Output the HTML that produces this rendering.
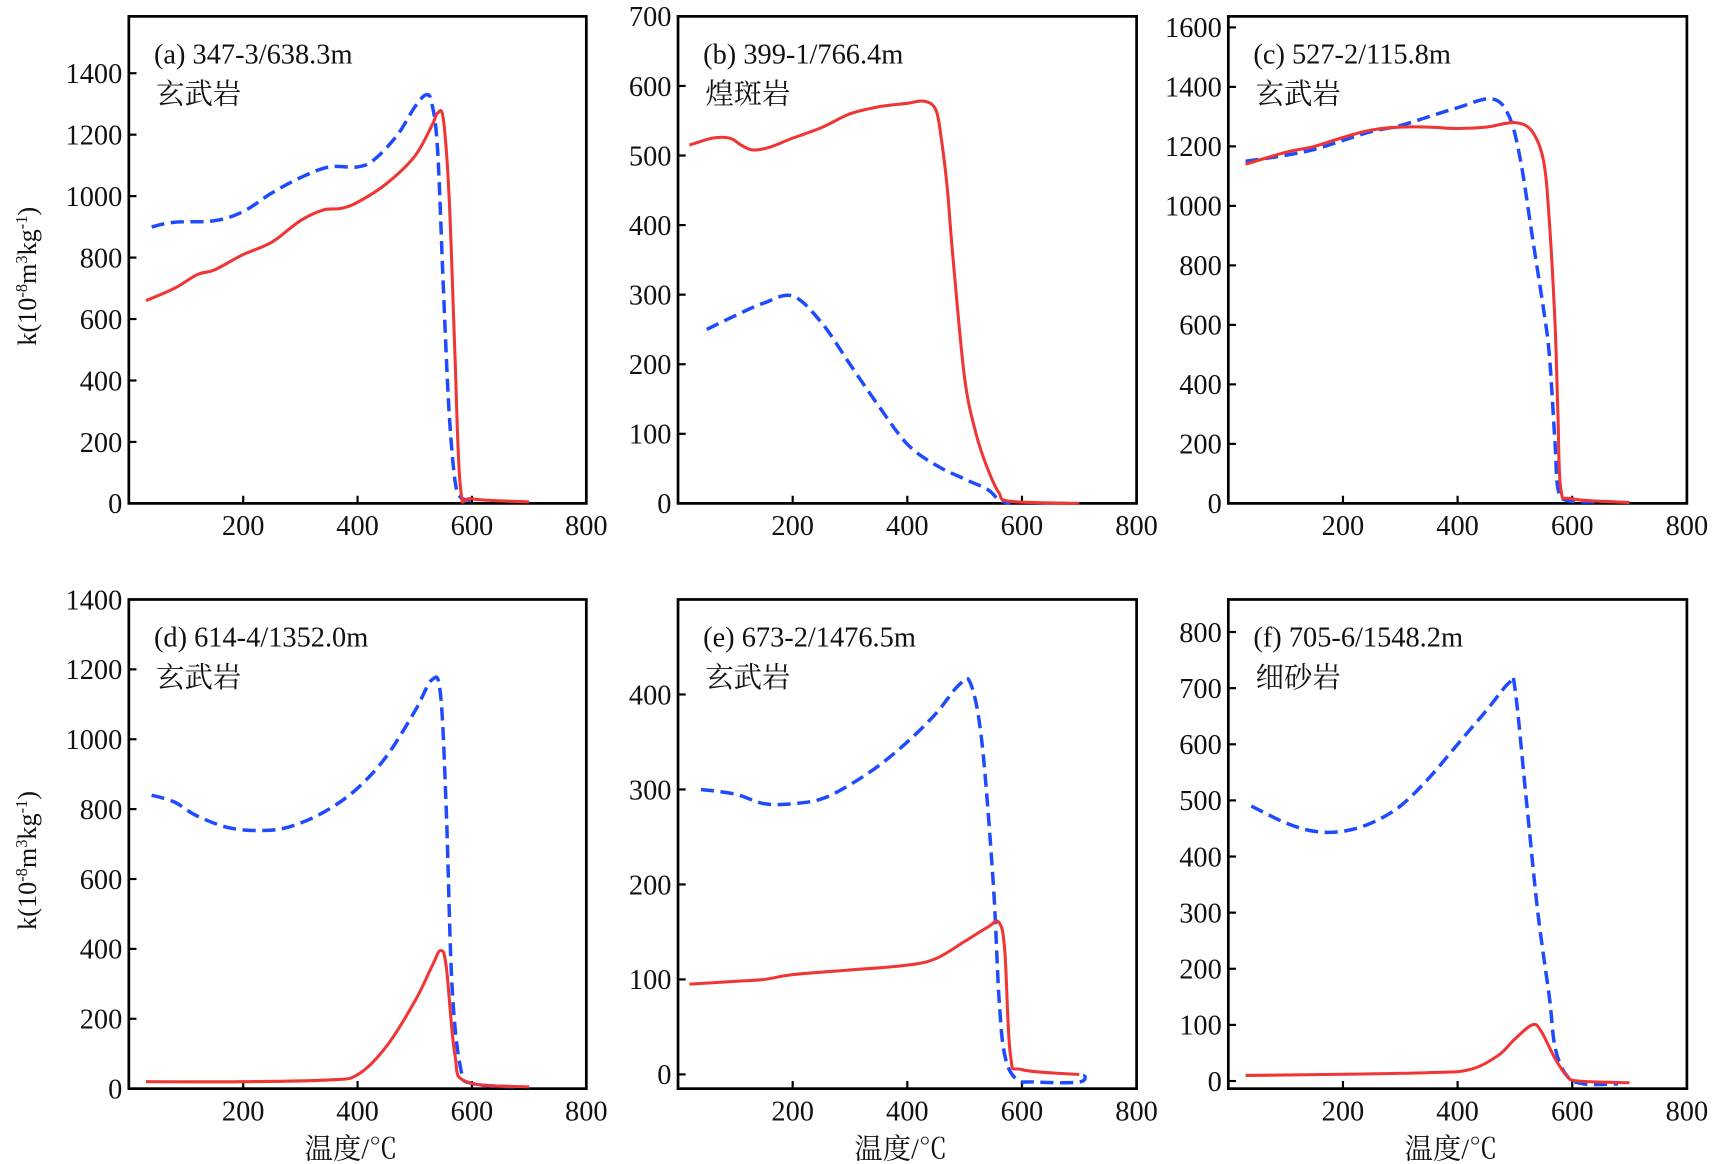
<!DOCTYPE html>
<html><head><meta charset="utf-8">
<style>
html,body{margin:0;padding:0;background:#fff;}
svg{display:block;}
text{font-family:"Liberation Serif","Noto Serif CJK SC","Noto Sans CJK SC",serif;fill:#111;}
</style></head>
<body>
<svg id="chart" width="1712" height="1164" viewBox="0 0 1568 1066" preserveAspectRatio="none" xmlns="http://www.w3.org/2000/svg"></svg>
<script>
// ---- data (temperature °C, susceptibility k) ----
const aHeatT=[30,80,120,150,200,250,300,340,370,400,450,500,530,540,550,560,570,580,600,700];
const aHeatK=[660,700,745,760,810,850,920,955,960,980,1040,1130,1230,1270,1250,1000,500,50,15,5];
const aCoolT=[40,80,150,200,250,300,350,400,430,470,500,520,530,540,550,560,570,580,600];
const aCoolK=[900,915,920,950,1010,1060,1095,1095,1120,1200,1290,1330,1300,1150,700,300,80,20,10];

const bHeatT=[20,60,90,110,130,160,200,250,300,350,400,430,450,460,470,480,500,520,540,560,580,700];
const bHeatK=[515,525,525,515,508,512,525,540,560,570,575,578,565,520,450,350,180,100,50,15,3,0];
const bCoolT=[50,100,150,200,250,300,350,400,450,500,540,560,580];
const bCoolK=[250,270,288,298,260,200,140,85,55,35,20,5,0];

const cHeatT=[30,100,150,200,250,300,350,400,450,500,530,550,560,570,575,580,600,700];
const cHeatK=[1140,1180,1200,1230,1255,1265,1265,1260,1265,1280,1250,1150,950,600,300,50,15,3];
const cCoolT=[30,100,150,200,250,300,350,400,460,490,510,530,550,560,570,575,590,650];
const cCoolK=[1150,1170,1190,1220,1250,1270,1300,1330,1360,1300,1150,900,650,500,200,50,10,5];

const dHeatT=[30,200,350,400,450,500,530,545,555,570,590,700];
const dHeatK=[20,20,25,40,120,250,350,395,350,100,20,5];
const dCoolT=[40,80,120,180,250,300,350,400,450,500,530,545,555,565,580,600,680];
const dCoolK=[840,820,780,745,740,760,800,860,950,1080,1170,1130,800,300,60,15,5];

const eHeatT=[20,100,150,200,300,400,450,500,540,560,570,580,600,700];
const eHeatK=[95,98,100,105,110,115,122,140,155,160,130,20,5,0];
const eCoolT=[40,100,150,200,250,300,350,400,450,490,510,530,550,560,570,590,620,700,710];
const eCoolK=[300,295,285,285,290,305,325,350,380,410,412,350,200,80,20,-5,-8,-8,0];

const fHeatT=[30,200,350,420,470,500,530,545,570,590,610,700];
const fHeatK=[10,12,15,20,45,75,100,90,40,10,0,-3];
const fCoolT=[40,100,150,200,250,300,350,400,450,490,500,520,540,560,570,590,620,680];
const fCoolK=[490,460,445,445,460,490,540,600,660,710,700,500,300,150,60,10,-5,-5];

const xTicks=[200,400,600,800];
const panelLabels=["(a) 347-3/638.3m","(b) 399-1/766.4m","(c) 527-2/115.8m","(d) 614-4/1352.0m","(e) 673-2/1476.5m","(f) 705-6/1548.2m"];
const rockLabels=["玄武岩","煌斑岩","玄武岩","玄武岩","玄武岩","细砂岩"];

const panels=[
 {id:'a',x0:118,x1:537,y0:15,y1:461,ymin:0,ymax:1585,ticks:[0,200,400,600,800,1000,1200,1400],heat:[aHeatT,aHeatK],cool:[aCoolT,aCoolK]},
 {id:'b',x0:621,x1:1041,y0:15,y1:461,ymin:0,ymax:700,ticks:[0,100,200,300,400,500,600,700],heat:[bHeatT,bHeatK],cool:[bCoolT,bCoolK]},
 {id:'c',x0:1125,x1:1545,y0:15,y1:461,ymin:0,ymax:1637,ticks:[0,200,400,600,800,1000,1200,1400,1600],heat:[cHeatT,cHeatK],cool:[cCoolT,cCoolK]},
 {id:'d',x0:118,x1:537,y0:549,y1:997,ymin:0,ymax:1400,ticks:[0,200,400,600,800,1000,1200,1400],heat:[dHeatT,dHeatK],cool:[dCoolT,dCoolK]},
 {id:'e',x0:621,x1:1041,y0:549,y1:997,ymin:-15,ymax:500,ticks:[0,100,200,300,400],heat:[eHeatT,eHeatK],cool:[eCoolT,eCoolK]},
 {id:'f',x0:1125,x1:1545,y0:549,y1:997,ymin:-13.6,ymax:858,ticks:[0,100,200,300,400,500,600,700,800],heat:[fHeatT,fHeatK],cool:[fCoolT,fCoolK]}
];

const NS='http://www.w3.org/2000/svg';
const svg=document.getElementById('chart');
function mk(tag,attrs,parent){const e=document.createElementNS(NS,tag);for(const k in attrs)e.setAttribute(k,attrs[k]);(parent||svg).appendChild(e);return e;}
function smooth(pts){
  let d='M'+pts[0][0].toFixed(1)+','+pts[0][1].toFixed(1);
  for(let i=0;i<pts.length-1;i++){
    const p0=pts[i-1]||pts[i],p1=pts[i],p2=pts[i+1],p3=pts[i+2]||p2;
    const t=0.17;
    const c1=[p1[0]+(p2[0]-p0[0])*t,p1[1]+(p2[1]-p0[1])*t];
    const c2=[p2[0]-(p3[0]-p1[0])*t,p2[1]-(p3[1]-p1[1])*t];
    d+=' C'+c1[0].toFixed(1)+','+c1[1].toFixed(1)+' '+c2[0].toFixed(1)+','+c2[1].toFixed(1)+' '+p2[0].toFixed(1)+','+p2[1].toFixed(1);
  }
  return d;
}

panels.forEach((p,i)=>{
  const g=mk('g',{});
  
  
  const sx=t=>p.x0+(t/800)*(p.x1-p.x0);
  const sy=v=>p.y1-(v-p.ymin)/(p.ymax-p.ymin)*(p.y1-p.y0);
  const frame=mk('rect',{x:p.x0,y:p.y0,width:p.x1-p.x0,height:p.y1-p.y0,fill:'none',stroke:'#000','stroke-width':2.5},g);
  
  
  xTicks.forEach(t=>{
    const X=sx(t);
    if(t<800){const tk=mk('line',{x1:X,x2:X,y1:p.y1,y2:p.y1-7,stroke:'#000','stroke-width':2},g);
      }
    const tl=mk('text',{x:X,y:p.y1+29,'text-anchor':'middle','font-size':26},g);
    tl.textContent=t;
    
    
  });
  p.ticks.forEach(v=>{
    const Y=sy(v);
    const tk=mk('line',{x1:p.x0,x2:p.x0+7,y1:Y,y2:Y,stroke:'#000','stroke-width':2},g);
    
    
    const tl=mk('text',{x:p.x0-6,y:Y+9,'text-anchor':'end','font-size':26},g);
    tl.textContent=v;
    
    
  });
  const line=(T,K)=>smooth(T.map((t,j)=>[sx(t),sy(K[j])]));
  const cool=mk('path',{d:line(p.cool[0],p.cool[1]),fill:'none',stroke:'#1f4bff','stroke-width':3.2,'stroke-dasharray':'12 6','stroke-linejoin':'round'},g);
  
  
  const heat=mk('path',{d:line(p.heat[0],p.heat[1]),fill:'none',stroke:'#f03535','stroke-width':2.8,'stroke-linejoin':'round'},g);
  
  
  const t1=mk('text',{x:p.x0+23,y:p.y0+43,'font-size':26},g);
  t1.textContent=panelLabels[i];
  
  
  const t2=mk('text',{x:p.x0+25,y:p.y0+80,'font-size':26},g);
  t2.textContent=rockLabels[i];
  
  
  if(p.id==='a'||p.id==='d'){
    const cy=(p.y0+p.y1)/2+15;
    const yt=mk('text',{x:0,y:0,'font-size':24,'text-anchor':'middle',transform:'translate(33,'+cy+') rotate(-90)'},g);
    yt.innerHTML='k(10<tspan baseline-shift="super" font-size="15">-8</tspan>m<tspan baseline-shift="super" font-size="15">3</tspan>kg<tspan baseline-shift="super" font-size="15">-1</tspan>)';
    
    
  }
  if(p.y0>500){
    const xt=mk('text',{x:(p.x0+p.x1)/2-6,y:1061,'font-size':26,'text-anchor':'middle'},g);
    xt.textContent='温度/℃';
    
    
  }
});
</script>
</body></html>
